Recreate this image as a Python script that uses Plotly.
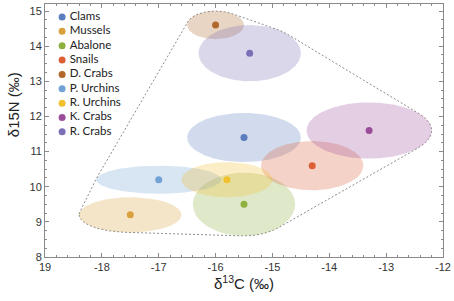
import numpy as np
import plotly.graph_objects as go

# ---- data ----
species = ["Clams", "Mussels", "Abalone", "Snails", "D. Crabs",
           "P. Urchins", "R. Urchins", "K. Crabs", "R. Crabs"]
d13C_mean = [-15.5, -17.5, -15.5, -14.3, -16.0, -17.0, -15.8, -13.3, -15.4]
d15N_mean = [11.4, 9.2, 9.5, 10.6, 14.6, 10.2, 10.2, 11.6, 13.8]
d13C_sd = [1.0, 0.9, 0.9, 0.9, 0.5, 1.1, 0.8, 1.1, 0.9]
d15N_sd = [0.7, 0.5, 0.9, 0.7, 0.4, 0.4, 0.5, 0.8, 0.8]
colors = ["#5b7dbd", "#d9a03e", "#8db03f", "#dc5f36", "#b0692a",
          "#72a2d3", "#f1c02e", "#9a4e99", "#7a70b8"]

x_ticks = [-19, -18, -17, -16, -15, -14, -13, -12]
x_ticktext = ["19", "-18", "-17", "-16", "-15", "-14", "-13", "-12"]
y_ticks = [8, 9, 10, 11, 12, 13, 14, 15]


def rgba(hexc, a):
    h = hexc.lstrip("#")
    r, g, b = int(h[0:2], 16), int(h[2:4], 16), int(h[4:6], 16)
    return f"rgba({r},{g},{b},{a})"


def convex_hull(points):
    pts = sorted(set(points))
    def cross(o, a, b):
        return (a[0]-o[0])*(b[1]-o[1]) - (a[1]-o[1])*(b[0]-o[0])
    lower, upper = [], []
    for p in pts:
        while len(lower) >= 2 and cross(lower[-2], lower[-1], p) <= 0:
            lower.pop()
        lower.append(p)
    for p in reversed(pts):
        while len(upper) >= 2 and cross(upper[-2], upper[-1], p) <= 0:
            upper.pop()
        upper.append(p)
    return lower[:-1] + upper[:-1]


t = np.linspace(0, 2 * np.pi, 361)
fig = go.Figure()

# convex hull around all ellipses (dashed)
all_pts = []
for cx, cy, rx, ry in zip(d13C_mean, d15N_mean, d13C_sd, d15N_sd):
    all_pts += list(zip(np.round(cx + rx * np.cos(t), 6), np.round(cy + ry * np.sin(t), 6)))
hull = convex_hull(all_pts)
hull.append(hull[0])
fig.add_trace(go.Scatter(
    x=[p[0] for p in hull], y=[p[1] for p in hull], mode="lines",
    line=dict(color="#8c8c8c", width=1, dash="2px,2px"),
    hoverinfo="skip", showlegend=False))

# ellipses
for name, cx, cy, rx, ry, c in zip(species, d13C_mean, d15N_mean, d13C_sd, d15N_sd, colors):
    fig.add_trace(go.Scatter(
        x=cx + rx * np.cos(t), y=cy + ry * np.sin(t), mode="lines",
        fill="toself", fillcolor=rgba(c, 0.28), line=dict(width=0),
        hoverinfo="skip", showlegend=False))

# means
fig.add_trace(go.Scatter(
    x=d13C_mean, y=d15N_mean, mode="markers", text=species,
    marker=dict(color=colors, size=7), showlegend=False))

# legend (custom, compact)
n = len(species)
leg_top, leg_step = 0.949, 0.0568
leg_y = [leg_top - i * leg_step for i in range(n)]
fig.add_trace(go.Scatter(
    x=[0.043] * n, y=leg_y, xaxis="x2", yaxis="y2", mode="markers",
    marker=dict(color=colors, size=7), hoverinfo="skip", showlegend=False))
fig.add_trace(go.Scatter(
    x=[0.062] * n, y=leg_y, xaxis="x2", yaxis="y2", mode="text",
    text=species, textposition="middle right",
    textfont=dict(family="Lato, Open Sans, sans-serif", size=11.5, color="#222"),
    hoverinfo="skip", showlegend=False))

axis_col = "#8a8a8a"
fig.update_layout(
    width=454, height=301,
    margin=dict(l=45, r=11, t=4, b=44),
    paper_bgcolor="white", plot_bgcolor="white",
    font=dict(family="Liberation Sans, Arial, sans-serif", color="#333"),
    showlegend=False,
    xaxis=dict(
        range=[-19, -12], tickmode="array", tickvals=x_ticks, ticktext=x_ticktext,
        ticks="inside", ticklen=4, tickcolor=axis_col, showline=True,
        linecolor=axis_col, linewidth=1, mirror="allticks", showgrid=False,
        zeroline=False, tickfont=dict(size=11, color="#333"),
        ticklabeloverflow="allow",
        minor=dict(ticks="inside", ticklen=2, tickcolor=axis_col,
                   tickvals=list(np.round(np.arange(-19, -11.99, 0.2), 2)), showgrid=False),
        title=dict(text="δ<sup>13</sup>C (‰)", font=dict(size=15, color="#222"), standoff=3),
    ),
    yaxis=dict(
        range=[8, 15.2], tickmode="array", tickvals=y_ticks,
        ticks="inside", ticklen=4, tickcolor=axis_col, showline=True,
        linecolor=axis_col, linewidth=1, mirror="allticks", showgrid=False,
        zeroline=False, tickfont=dict(size=11, color="#333"),
        ticklabeloverflow="allow",
        minor=dict(ticks="inside", ticklen=2, tickcolor=axis_col,
                   tickvals=list(np.round(np.arange(8, 15.21, 0.25), 2)), showgrid=False),
    ),
    xaxis2=dict(overlaying="x", range=[0, 1], visible=False, fixedrange=True),
    yaxis2=dict(overlaying="y", range=[0, 1], visible=False, fixedrange=True),
    annotations=[dict(
        text="δ15N (‰)", textangle=-90, xref="paper", yref="paper",
        x=0, y=0.6, xanchor="center", yanchor="middle", xshift=-32, showarrow=False,
        font=dict(size=15, color="#222", family="Liberation Sans, Arial, sans-serif"))],
)

fig.write_html(
    "out.html",
    config={"displayModeBar": False},
    post_script="document.body.style.margin='0';document.body.style.overflow='hidden';",
)
